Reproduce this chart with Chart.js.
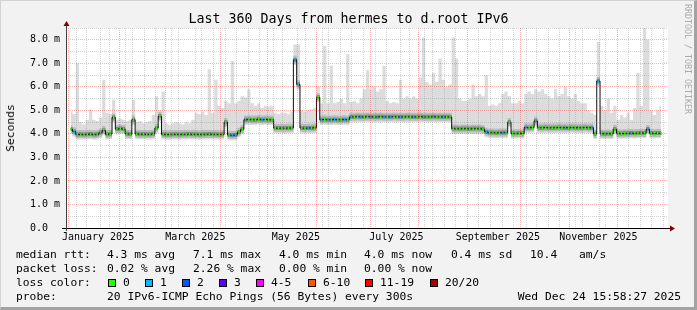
<!DOCTYPE html>
<html>
<head>
<meta charset="utf-8">
<title>Last 360 Days from hermes to d.root IPv6</title>
<script src="https://cdn.jsdelivr.net/npm/chart.js@4/dist/chart.umd.min.js"></script>
<style>
  html, body { margin: 0; padding: 0; background: #f2f2f2; }
  #frame {
    position: absolute; left: 0; top: 0; width: 697px; height: 310px; box-sizing: border-box;
    background: #f2f2f2;
    border-top: 1px solid #d2d2d2; border-left: 1px solid #d2d2d2;
    border-right: 3px solid #a3a3a3; border-bottom: 3px solid #a3a3a3;
  }
  #chart { position: absolute; left: 0; top: 0; }
  .txt {
    position: absolute; font-family: "DejaVu Sans Mono", monospace; font-size: 11.3px;
    line-height: 14px; white-space: pre; color: #000;
  }
  .title { font-size: 13.3px; line-height: 16px; }
  .ylab { transform: translate(-50%, -50%) rotate(-90deg); }
  .mark {
    position: absolute; left: 683px; top: 4px; font-family: "DejaVu Sans Mono", monospace;
    font-size: 8.3px; color: #ababab; writing-mode: vertical-rl; white-space: pre;
  }
  .box { position: absolute; width: 6px; height: 6px; border: 1px solid #000; }
</style>
</head>
<body>
<div id="frame"></div>
<canvas id="chart" width="697" height="310"></canvas>

<div class="txt title" style="left:0; width:697px; text-align:center; top:11px;">Last 360 Days from hermes to d.root IPv6</div>
<div class="txt ylab" style="left:11px; top:128px;">Seconds</div>
<div class="mark">RRDTOOL / TOBI OETIKER</div>

<div class="txt" style="left:16px; top:248px;">median rtt:</div>
<div class="txt" style="left:107px; top:248px;">4.3 ms avg</div>
<div class="txt" style="left:193px; top:248px;">7.1 ms max</div>
<div class="txt" style="left:279px; top:248px;">4.0 ms min</div>
<div class="txt" style="left:364px; top:248px;">4.0 ms now</div>
<div class="txt" style="left:451px; top:248px;">0.4 ms sd</div>
<div class="txt" style="left:530px; top:248px;">10.4</div>
<div class="txt" style="left:579px; top:248px;">am/s</div>

<div class="txt" style="left:16px; top:262px;">packet loss:</div>
<div class="txt" style="left:107px; top:262px;">0.02 % avg</div>
<div class="txt" style="left:193px; top:262px;">2.26 % max</div>
<div class="txt" style="left:279px; top:262px;">0.00 % min</div>
<div class="txt" style="left:364px; top:262px;">0.00 % now</div>

<div class="txt" style="left:16px; top:276px;">loss color:</div>
<div id="lossLegend"></div>

<div class="txt" style="left:16px; top:290px;">probe:</div>
<div class="txt" style="left:107px; top:290px;">20 IPv6-ICMP Echo Pings (56 Bytes) every 300s</div>
<div class="txt" style="right:16px; top:290px;">Wed Dec 24 15:58:27 2025</div>

<script>
// one reading every 2 days, first one on day -1 (day 0 = 1 Jan 2025)
const firstSampleDay = -1
const sampleStepDays = 2

// median round trip time, ms
const medianMs = [
  4.20, 4.10, 3.97, 3.98, 3.97, 3.98, 3.99, 3.97, 3.98, 4.05,
  4.15, 3.98, 4.00, 4.70, 4.20, 4.22, 4.20, 4.00, 3.99, 4.60,
  4.00, 3.98, 3.99, 3.98, 3.98, 4.00, 4.25, 4.75, 3.98, 3.97,
  3.97, 3.98, 3.98, 3.97, 3.98, 3.98, 3.99, 3.98, 3.98, 3.97,
  3.98, 3.98, 3.99, 3.98, 3.98, 3.97, 3.98, 4.50, 3.95, 3.94,
  3.95, 4.08, 4.20, 4.60, 4.61, 4.60, 4.60, 4.62, 4.60, 4.61,
  4.60, 4.60, 4.25, 4.24, 4.25, 4.24, 4.25, 4.25, 7.15, 6.10,
  4.25, 4.24, 4.25, 4.25, 4.26, 5.55, 4.60, 4.61, 4.60, 4.60,
  4.61, 4.60, 4.60, 4.61, 4.60, 4.72, 4.72, 4.73, 4.72, 4.72,
  4.73, 4.72, 4.72, 4.72, 4.73, 4.72, 4.72, 4.72, 4.73, 4.72,
  4.72, 4.72, 4.73, 4.72, 4.72, 4.72, 4.73, 4.72, 4.72, 4.72,
  4.73, 4.72, 4.72, 4.72, 4.72, 4.72, 4.22, 4.22, 4.21, 4.22,
  4.22, 4.21, 4.22, 4.22, 4.22, 4.20, 4.08, 4.05, 4.05, 4.04,
  4.05, 4.05, 4.05, 4.50, 4.02, 4.02, 4.03, 4.02, 4.27, 4.26,
  4.27, 4.55, 4.26, 4.26, 4.27, 4.26, 4.26, 4.26, 4.27, 4.26,
  4.26, 4.26, 4.27, 4.26, 4.26, 4.26, 4.27, 4.26, 4.26, 4.00,
  6.25, 4.01, 4.00, 4.01, 4.00, 4.20, 4.02, 4.01, 4.02, 4.02,
  4.03, 4.02, 4.03, 4.04, 4.03, 4.20, 4.03, 4.02, 4.03, 4.03,
]

// top of the smoke (slowest pings), ms
const smokeHighMs = [
  4.95, 4.85, 7.00, 4.50, 4.40, 4.60, 5.05, 4.60, 4.55, 4.70,
  6.30, 4.90, 4.85, 5.45, 4.60, 4.65, 4.60, 4.55, 4.60, 5.45,
  4.50, 4.55, 4.45, 4.50, 4.55, 4.80, 5.60, 5.00, 5.80, 4.45,
  4.40, 4.45, 4.50, 4.45, 4.40, 4.50, 4.45, 4.60, 4.90, 4.85,
  4.95, 4.80, 6.75, 4.90, 6.30, 5.20, 5.10, 5.40, 5.30, 7.10,
  5.30, 5.40, 5.60, 5.55, 5.90, 5.30, 5.20, 5.30, 5.10, 5.20,
  5.15, 5.20, 4.90, 4.85, 4.90, 4.90, 4.85, 4.95, 7.80, 7.80,
  5.00, 4.95, 5.00, 5.05, 5.10, 6.00, 5.30, 7.75, 5.30, 6.90,
  5.30, 5.35, 5.50, 5.30, 7.40, 5.35, 5.40, 5.30, 5.50, 5.90,
  6.70, 5.90, 6.00, 5.80, 5.90, 6.90, 5.40, 5.30, 5.35, 5.30,
  6.30, 5.50, 5.60, 5.50, 5.60, 5.50, 6.40, 8.10, 6.20, 6.10,
  6.60, 6.20, 7.20, 6.30, 6.00, 6.10, 8.10, 7.20, 5.50, 5.40,
  5.40, 5.50, 6.10, 5.60, 5.70, 5.60, 6.50, 5.20, 5.25, 5.20,
  5.30, 5.70, 5.80, 5.60, 5.30, 5.30, 5.40, 5.30, 5.70, 5.80,
  5.70, 5.90, 5.80, 5.90, 5.70, 5.60, 5.50, 5.90, 5.60, 5.70,
  6.00, 5.60, 5.50, 5.70, 5.40, 5.30, 5.30, 5.00, 4.90, 4.80,
  7.90, 5.20, 5.00, 5.50, 4.90, 5.20, 4.60, 4.80, 4.70, 4.90,
  4.60, 5.10, 6.60, 5.20, 8.50, 8.00, 5.00, 4.80, 5.00, 5.20,
]

// lost pings out of 20 for each reading
const lossCount = [
  0, 1, 0, 0, 0, 0, 0, 0, 0, 0,
  0, 0, 0, 0, 0, 0, 0, 0, 0, 0,
  0, 0, 0, 0, 0, 0, 0, 0, 0, 0,
  0, 0, 0, 0, 0, 0, 0, 0, 0, 0,
  0, 0, 0, 0, 0, 0, 0, 0, 0, 1,
  1, 0, 0, 1, 0, 0, 0, 0, 1, 0,
  0, 0, 0, 0, 0, 0, 0, 0, 1, 1,
  0, 0, 1, 0, 0, 0, 1, 0, 1, 0,
  1, 0, 0, 1, 0, 1, 0, 0, 1, 0,
  0, 1, 0, 1, 0, 1, 0, 1, 0, 0,
  1, 0, 0, 0, 1, 0, 0, 1, 0, 0,
  1, 0, 0, 1, 0, 0, 0, 0, 0, 0,
  0, 0, 0, 0, 0, 0, 1, 0, 0, 0,
  0, 1, 0, 0, 0, 0, 0, 0, 1, 0,
  0, 1, 0, 0, 0, 0, 0, 0, 0, 0,
  1, 0, 0, 0, 0, 0, 0, 0, 1, 0,
  1, 0, 0, 0, 0, 0, 0, 0, 0, 0,
  1, 0, 0, 0, 0, 1, 0, 0, 0, 0,
]

const lossLabels = ["0", "1", "2", "3", "4-5", "6-10", "11-19", "20/20"]
const lossColors = ["#26ff00", "#00b8ff", "#0059ff", "#5e00ff", "#ff00ff", "#ff5500", "#ff0000", "#a10000"]
const lossUpper = [0, 1, 2, 3, 5, 10, 19, 20]

// x axis, in days since 1 Jan 2025
const monthStartDays = [0, 31, 59, 90, 120, 151, 181, 212, 243, 273, 304, 334]
const xLabelDays = [15.5, 74.5, 135.5, 196.5, 258, 319]
const xLabels = ["January 2025", "March 2025", "May 2025", "July 2025", "September 2025", "November 2025"]
const firstMonday = 5

const xMin = -1.2
const xMax = 358.5

const red = "rgba(255, 0, 0, 0.3)"
const grey = "rgba(140, 140, 140, 0.38)"
const font = { family: '"DejaVu Sans Mono", monospace', size: 10 }

const sampleDay = medianMs.map((_, i) => firstSampleDay + i * sampleStepDays)
const series = (vals) => vals.map((y, i) => ({ x: sampleDay[i], y }))
const offMedian = (d) => medianMs.map((m, i) => ({ x: sampleDay[i], y: m + d }))
const lossBucket = (c) => lossUpper.findIndex((u) => c <= u)

const weekDays = []
for (let d = firstMonday; d < xMax; d += 7) {
  if (!monthStartDays.includes(d)) weekDays.push(d)
}
const xTickDays = [...monthStartDays, ...weekDays, ...xLabelDays].sort((a, b) => a - b)

const stepLine = {
  type: "line",
  stepped: "middle",
  pointRadius: 0,
  borderWidth: 0,
  borderColor: "transparent",
  fill: false,
}

const datasets = [
  { ...stepLine, data: offMedian(-0.22), order: 9 },
  { ...stepLine, label: "smoke", data: series(smokeHighMs), fill: "-1", backgroundColor: "#dcdcdc", order: 8 },
  { ...stepLine, data: offMedian(-0.16), order: 7 },
  { ...stepLine, data: offMedian(0.18), fill: "-1", backgroundColor: "#bbbbbb", order: 6 },
  { ...stepLine, data: offMedian(-0.08), order: 5 },
  { ...stepLine, data: offMedian(0.09), fill: "-1", backgroundColor: "#838383", order: 4 },
  {
    type: "line",
    label: "median rtt",
    data: series(medianMs),
    stepped: "middle",
    borderColor: "#111111",
    borderWidth: 1,
    pointRadius: 0,
    fill: false,
    order: 2,
  },
  {
    type: "bar",
    label: "loss color",
    data: medianMs.map((m, i) => ({ x: sampleDay[i], y: [m - 0.05, m + 0.05] })),
    backgroundColor: lossCount.map((c) => lossColors[lossBucket(c)]),
    borderWidth: 0,
    barPercentage: 1,
    categoryPercentage: 1,
    grouped: false,
    order: 1,
  },
]

const plotBackground = {
  id: "plotBackground",
  beforeDraw(chart) {
    const { ctx, chartArea: a } = chart
    ctx.save()
    ctx.fillStyle = "#ffffff"
    ctx.fillRect(a.left, a.top, a.right - a.left, a.bottom - a.top)
    ctx.restore()
  },
}

const axisArrows = {
  id: "axisArrows",
  afterDraw(chart) {
    const { ctx, chartArea: a } = chart
    const x0 = Math.round(a.left) + 0.5
    const y0 = Math.round(a.bottom) + 0.5
    ctx.save()
    ctx.lineWidth = 1
    ctx.strokeStyle = "#000000"
    ctx.beginPath()
    ctx.moveTo(a.left - 4, y0)
    ctx.lineTo(a.right + 3, y0)
    ctx.stroke()
    ctx.strokeStyle = "#404040"
    ctx.beginPath()
    ctx.moveTo(x0, a.bottom + 3)
    ctx.lineTo(x0, a.top - 3)
    ctx.stroke()
    ctx.fillStyle = "#7f0000"
    ctx.beginPath()
    ctx.moveTo(a.right + 2, y0 - 3)
    ctx.lineTo(a.right + 7, y0)
    ctx.lineTo(a.right + 2, y0 + 3)
    ctx.closePath()
    ctx.fill()
    ctx.beginPath()
    ctx.moveTo(x0 - 3, a.top - 2)
    ctx.lineTo(x0, a.top - 7)
    ctx.lineTo(x0 + 3, a.top - 2)
    ctx.closePath()
    ctx.fill()
    ctx.restore()
  },
}

new Chart(document.getElementById("chart"), {
  type: "line",
  data: { datasets },
  options: {
    responsive: false,
    devicePixelRatio: 1,
    animation: false,
    events: [],
    layout: { padding: { left: 0, top: 28, right: 29, bottom: 0 } },
    plugins: {
      legend: { display: false },
      tooltip: { enabled: false },
    },
    scales: {
      x: {
        type: "linear",
        min: xMin,
        max: xMax,
        afterFit: (s) => { s.height = 82 },
        afterBuildTicks: (s) => { s.ticks = xTickDays.map((v) => ({ value: v })) },
        ticks: {
          autoSkip: false,
          maxRotation: 0,
          padding: 3,
          font,
          color: "#000000",
          callback: (v) => {
            const k = xLabelDays.indexOf(v)
            return k >= 0 ? xLabels[k] : ""
          },
        },
        grid: {
          z: 1,
          drawTicks: false,
          color: (c) => {
            const v = c.tick ? c.tick.value : null
            if (monthStartDays.includes(v)) return red
            if (xLabelDays.includes(v)) return "transparent"
            return grey
          },
        },
        border: { display: false, dash: [1, 1] },
      },
      y: {
        min: 0,
        max: 8.5,
        afterFit: (s) => { s.width = 66 },
        ticks: {
          stepSize: 0.5,
          autoSkip: false,
          padding: 6,
          font,
          color: "#000000",
          callback: (v) => {
            if (!Number.isInteger(v)) return ""
            return v === 0 ? "0.0  " : v.toFixed(1) + " m"
          },
        },
        grid: {
          z: 1,
          drawTicks: false,
          color: (c) => (c.tick && Number.isInteger(c.tick.value) ? red : grey),
        },
        border: { display: false, dash: [1, 1] },
      },
    },
  },
  plugins: [plotBackground, axisArrows],
})

// loss colour legend row
const lossLegendX = [108, 145, 182, 219, 256, 308, 365, 430]
const legendBox = document.getElementById("lossLegend")
lossLabels.forEach((label, i) => {
  const box = document.createElement("div")
  box.className = "box"
  box.style.left = lossLegendX[i] + "px"
  box.style.top = "279px"
  box.style.background = lossColors[i]
  legendBox.appendChild(box)
  const t = document.createElement("div")
  t.className = "txt"
  t.style.left = lossLegendX[i] + 15 + "px"
  t.style.top = "276px"
  t.textContent = label
  legendBox.appendChild(t)
})
</script>
</body>
</html>
